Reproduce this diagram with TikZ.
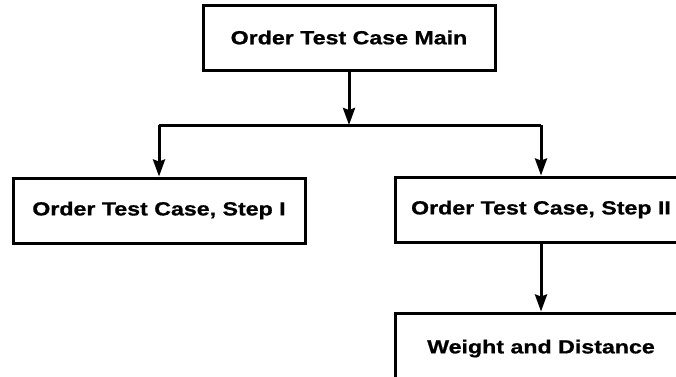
\documentclass[tikz,border=0pt]{standalone}
\usepackage{fontspec}
\newfontfamily\labfont{Liberation Sans}[FakeStretch=1.22, BoldFeatures={FakeBold=0.8}]
\usetikzlibrary{arrows.meta}
\begin{document}
\begin{tikzpicture}[x=1pt,y=-1pt,
  box/.style={draw=black, line width=3pt, rectangle, minimum width=292pt,
    minimum height=65pt, inner sep=0pt,
    font=\labfont\bfseries\fontsize{19}{22}\selectfont},
  link/.style={line width=3pt},
  arr/.style={link, -{Stealth[length=17pt,width=12pt,inset=2pt]}}]
\clip (0,0) rectangle (676,376);
\fill[white] (0,0) rectangle (676,376);

% boxes
\node[box] (main) at (349,37.5) {Order Test Case Main};
\node[box] (s1) at (159,210.5) {Order Test Case, Step I};
\node[box] (s2) at (541,209.5) {Order Test Case, Step II};
\node[box, minimum height=71pt] (w) at (541,348.5) {Weight and Distance};

% branching connector
\coordinate (j) at (349,125);
\coordinate (jl) at (159,125);
\coordinate (jr) at (541,125);
\draw[arr] (main) -- (j);
\draw[link] (jl) -- (jr);
\draw[arr] (jl) -- (s1);
\draw[arr] (jr) -- (s2);
\draw[arr] (s2) -- (w);
\end{tikzpicture}
\end{document}
